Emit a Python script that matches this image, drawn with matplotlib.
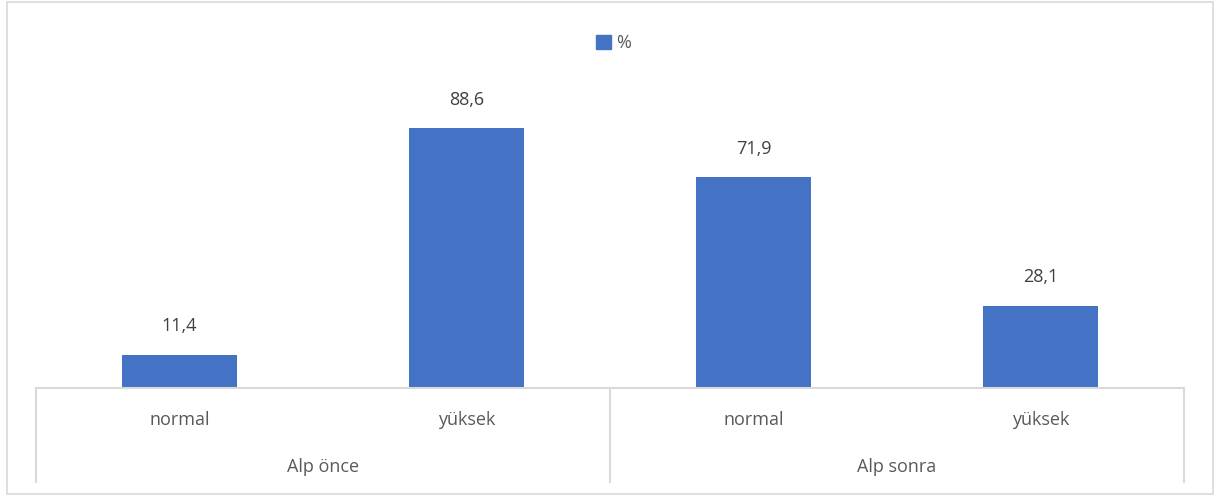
import matplotlib.pyplot as plt
from matplotlib.patches import Rectangle, Patch
from matplotlib.lines import Line2D

groupes = ["Alp önce", "Alp sonra"]
categories = ["normal", "yüksek", "normal", "yüksek"]
valeurs = [11.4, 88.6, 71.9, 28.1]

bleu = "#4472C4"
gris_texte = "#595959"
gris_ligne = "#D9D9D9"
police = ["Open Sans", "DejaVu Sans"]
plt.rcParams['font.family'] = police

W, H = 1227, 496
fig = plt.figure(figsize=(W / 100, H / 100), dpi=100)

# cadre du graphique
fig.patches.append(Rectangle((7 / W, 2 / H), (1213 - 7) / W, (494 - 2) / H,
                             transform=fig.transFigure, fill=False,
                             edgecolor=gris_ligne, linewidth=1.2))

x0, x1 = 36, 1184
y_axe, y_haut = 388, 95
ax = fig.add_axes([x0 / W, 1 - y_axe / H, (x1 - x0) / W, (y_axe - y_haut) / H])

positions = list(range(len(valeurs)))
barres = ax.bar(positions, valeurs, width=0.4, color=bleu)
for p, v in zip(positions, valeurs):
    ax.annotate(f"{v:.1f}".replace(".", ","), (p, v), xytext=(0, 14),
                textcoords="offset points", ha="center", va="bottom",
                fontsize=13, color="#404040")

ax.set_xlim(-0.5, len(valeurs) - 0.5)
ax.set_ylim(0, 100)
ax.axis("off")

# axe des catégories à deux niveaux
h_ax = y_axe - y_haut
trans = ax.get_xaxis_transform()
ax.add_line(Line2D([-0.5, len(valeurs) - 0.5], [0, 0], transform=trans,
                   color=gris_ligne, linewidth=1.5, clip_on=False))
bas = -(482 - y_axe) / h_ax
for xs in [-0.5, 1.5, 3.5]:
    ax.add_line(Line2D([xs, xs], [0, bas], transform=trans,
                       color=gris_ligne, linewidth=1.5, clip_on=False))
for p, c in zip(positions, categories):
    ax.text(p, -(420 - y_axe) / h_ax, c, transform=trans, ha="center",
            va="center", fontsize=13, color=gris_texte)
for i, g in enumerate(groupes):
    ax.text(2 * i + 0.5, -(467 - y_axe) / h_ax, g, transform=trans,
            ha="center", va="center", fontsize=13, color=gris_texte)

fig.legend(handles=[Patch(color=bleu, label="%")], loc="center",
           bbox_to_anchor=(0.5, 1 - 43 / H), frameon=False, fontsize=13,
           handlelength=0.8, handleheight=0.8, handletextpad=0.3,
           labelcolor=gris_texte)

fig.savefig("out.png", dpi=100)
